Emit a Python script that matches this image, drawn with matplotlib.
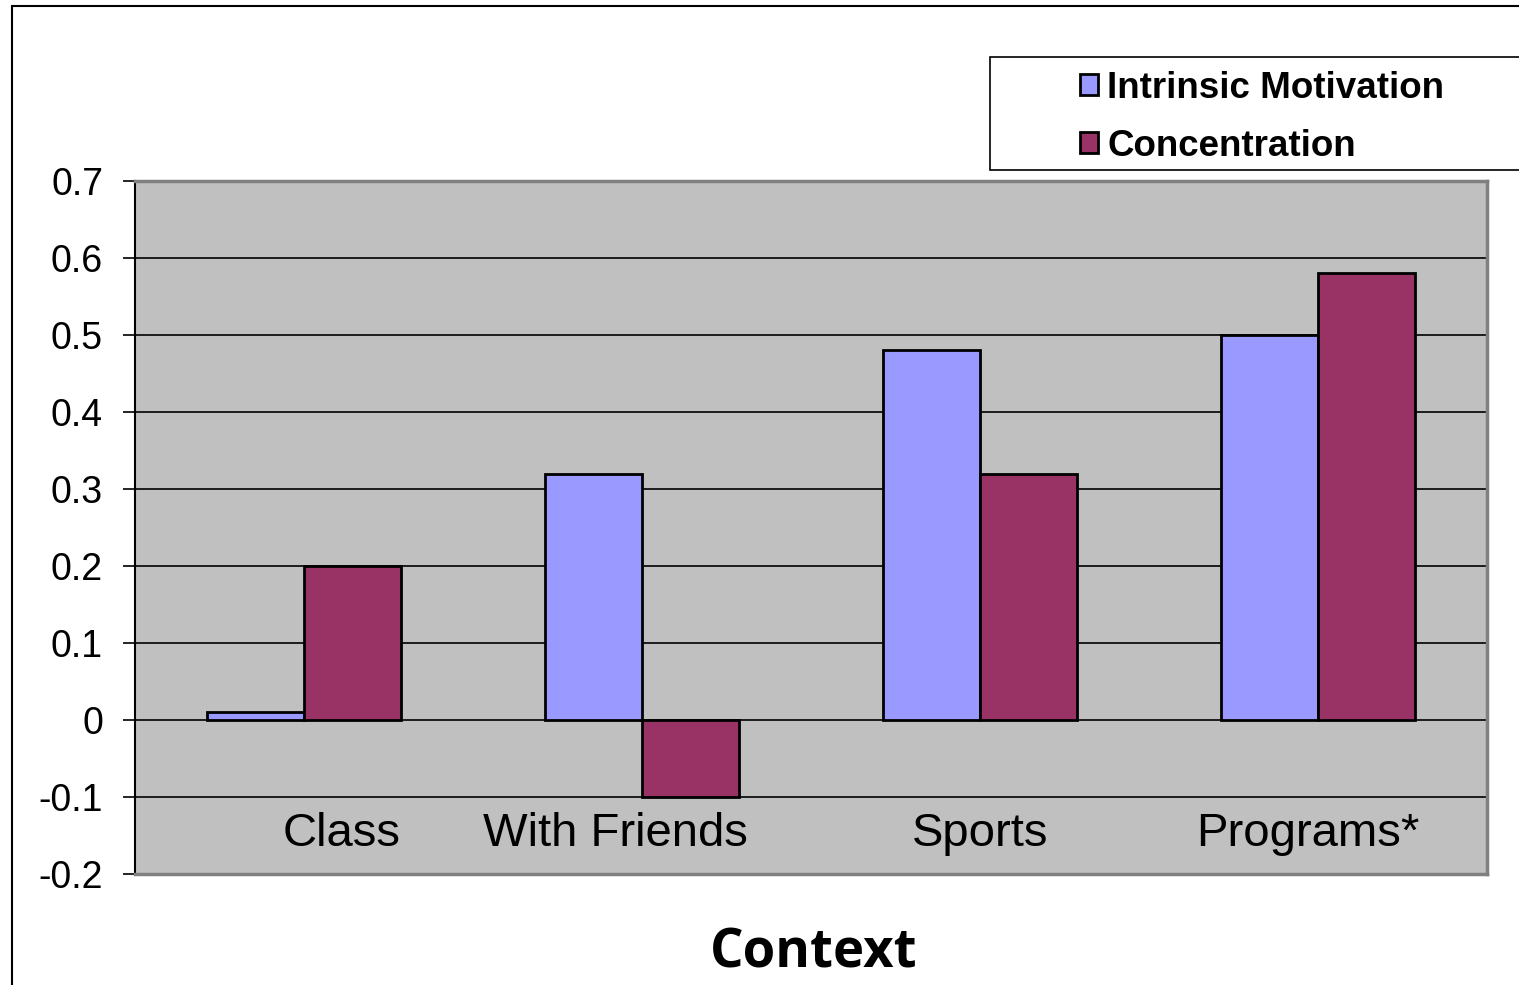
import matplotlib.pyplot as plt
import numpy as np
from matplotlib.patches import Rectangle

# --- data ---
categories = ["Class", "With Friends", "Sports", "Programs*"]
intrinsic = [0.01, 0.32, 0.48, 0.50]
concentration = [0.20, -0.10, 0.32, 0.58]
yticks = [-0.2, -0.1, 0, 0.1, 0.2, 0.3, 0.4, 0.5, 0.6, 0.7]
ytick_labels = ["-0.2", "-0.1", "0", "0.1", "0.2", "0.3", "0.4", "0.5", "0.6", "0.7"]

# label shifts (Excel put them a bit off-center)
label_shift = [0.11, -0.08, 0.0, -0.03]

plt.rcParams['font.family'] = ['Liberation Sans', 'DejaVu Sans']

W, H = 1519, 985
fig = plt.figure(figsize=(W / 100, H / 100), dpi=100)
fig.patch.set_facecolor('white')

# outer chart frame (runs off the right and bottom edge)
fig.patches.append(Rectangle((12 / W, -0.05), 1.1, 1 - 6 / H + 0.05,
                             transform=fig.transFigure, fill=False,
                             edgecolor='black', linewidth=1.5))

ax = fig.add_axes([135 / W, (H - 874) / H, (1487 - 135) / W, (874 - 181) / H])
ax.set_facecolor('#C0C0C0')

x = np.arange(len(categories))
w = 0.287
ax.bar(x - w / 2, intrinsic, w, color='#9999FF', edgecolor='black',
       linewidth=2, label='Intrinsic Motivation', zorder=3)
ax.bar(x + w / 2, concentration, w, color='#993366', edgecolor='black',
       linewidth=2, label='Concentration', zorder=3)

ax.set_xlim(-0.5, 3.5)
ax.set_ylim(-0.2, 0.7)
ax.set_yticks(yticks)
ax.set_yticklabels(ytick_labels, fontsize=27)
ax.set_xticks([])
ax.tick_params(axis='y', length=9, width=1.2, pad=14, direction='out')
ax.yaxis.grid(True, color='black', linewidth=1.2, zorder=1)
ax.set_axisbelow(True)

for side in ['top', 'right', 'bottom']:
    ax.spines[side].set_color('#808080')
    ax.spines[side].set_linewidth(2.5)
ax.spines['left'].set_color('black')
ax.spines['left'].set_linewidth(1.5)

for i, cat in enumerate(categories):
    ax.text(i + label_shift[i], -0.148, cat, ha='center', va='center',
            fontsize=34, zorder=4)

fig.text(814 / W, 1 - 953 / H, "Context", ha='center', va='center',
         fontsize=38, fontweight='bold', family=['Open Sans', 'DejaVu Sans'])

# legend box
fig.patches.append(Rectangle((990 / W, 1 - 170 / H), 0.5, 113 / H,
                             transform=fig.transFigure, fill=True,
                             facecolor='white', edgecolor='black', linewidth=1.2))
leg = fig.legend(loc='upper left', bbox_to_anchor=(1054 / W, 1 - 45 / H),
                 frameon=False, prop={'weight': 'bold', 'size': 26.5},
                 handlelength=0.5, handleheight=0.5, handletextpad=0.25,
                 labelspacing=0.62, borderpad=0.2)

fig.savefig('out.png', dpi=100)
